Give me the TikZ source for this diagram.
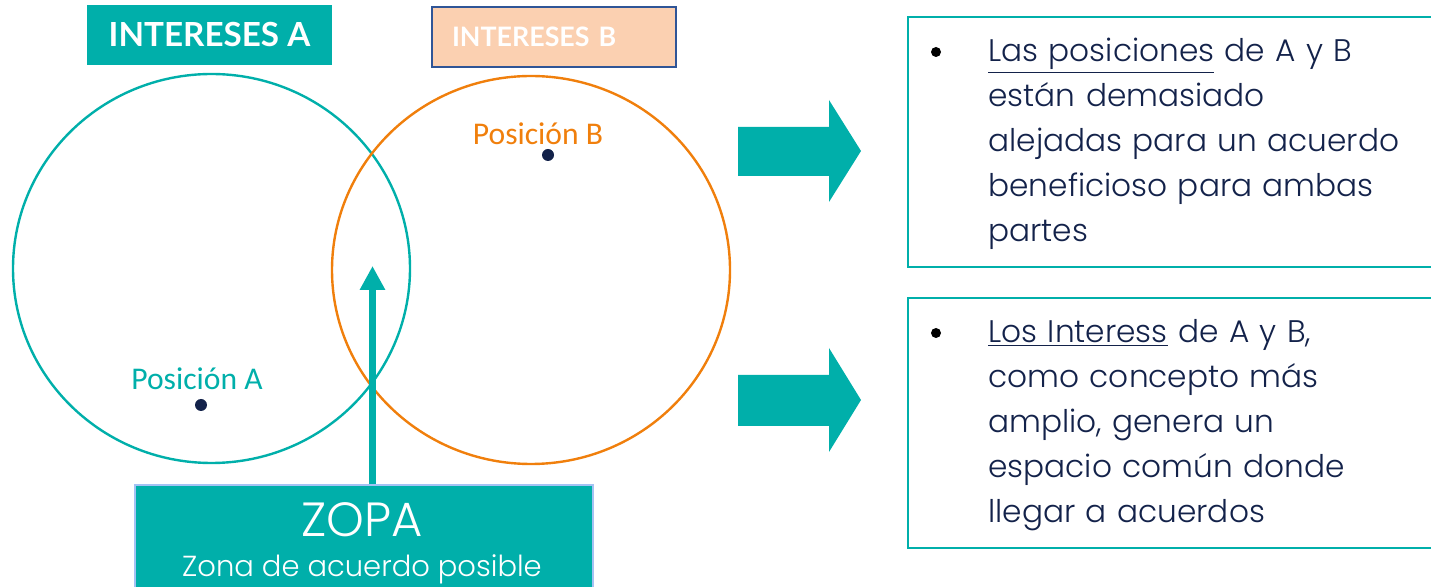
\documentclass[tikz,border=0pt]{standalone}
\usepackage{fontspec}
\setmainfont{Lato}
\newfontfamily\lightfont{Poppins Light}
\newfontfamily\calfont{Carlito}
\usetikzlibrary{arrows.meta}
\definecolor{zteal}{HTML}{00AFAA}
\definecolor{zorange}{HTML}{F07F0C}
\definecolor{zpeach}{HTML}{FBD0B1}
\definecolor{znavy}{HTML}{13224A}
\definecolor{zblue}{HTML}{2F5597}
\definecolor{zlight}{HTML}{A4C2F4}

\begin{document}
\begin{tikzpicture}[x=0.5pt,y=-0.5pt,
    dot/.style={circle, fill=znavy, inner sep=0pt, minimum size=6pt},
    bullet/.style={circle, fill=black, inner sep=0pt, minimum size=5pt},
    notebox/.style={draw=zteal, line width=1pt},
    notetext/.style={anchor=north west, inner sep=0pt, text=znavy, text width=225pt, align=left,
        font=\lightfont\fontsize{15.6}{22.5}\selectfont},
    bigarrow/.style={fill=zteal}]
        \useasboundingbox (0,0) rectangle (1431,587);
        % headings
        \node[fill=zteal, text=white, minimum width=122.5pt, minimum height=30pt,
            font=\bfseries\fontsize{16.6}{19}\selectfont] (intA) at (209.5,35) {INTERESES A};
        \node[fill=zpeach, draw=zblue, line width=0.8pt, text=white, minimum width=122pt, minimum height=30pt,
            inner xsep=10pt, text width=102pt, align=left,
            font=\bfseries\fontsize{13.4}{15}\selectfont] (intB) at (554,37) {\raisebox{-1.5pt}{INTERESES B}};
        % interest circles
        \draw[zteal, line width=1.2pt] (211.5,268.5) ellipse [x radius=198.5, y radius=194.5];
        \draw[zorange, line width=1.2pt] (531,270) ellipse [x radius=199, y radius=194];
        % positions
        \node[dot] (posA) at (201,405) {};
        \node[zteal, font=\calfont\fontsize{15.8}{18}\selectfont] (labA) at (197,379) {Posición A};
        \node[dot] (posB) at (548,155) {};
        \node[zorange, font=\calfont\fontsize{15.8}{18}\selectfont] (labB) at (538,134) {Posición B};
        % zopa
        \node[fill=zteal, draw=zlight, line width=1pt, anchor=north west, minimum width=229pt, minimum height=60pt] (zopa) at (133.5,484.5) {};
        \node[text=white, font=\lightfont\fontsize{24}{28}\selectfont] (zopaT) at (362,520) {ZOPA};
        \node[text=white, font=\lightfont\fontsize{14.5}{17}\selectfont] (zopaS) at (362,569) {Zona de acuerdo posible};
        \coordinate (zopaTip) at (372.5,266);
        \draw[zteal, line width=3.5pt, -{Triangle[width=12pt,length=12pt]}] (zopa.north -| zopaTip) -- (zopaTip);
        % block arrows
        \fill[bigarrow] (738,127) -- (829,127) -- (829,100) -- (861,151) -- (829,202) -- (829,176) -- (738,176) -- cycle;
        \fill[bigarrow] (738,375) -- (829,375) -- (829,348) -- (861,400) -- (829,452) -- (829,426) -- (738,426) -- cycle;
        % notes
        \draw[notebox] (908,17) rectangle (1445,267);
        \node[bullet] (bulA) at (936,52) {};
        \node[notetext] (noteA) at (988,38) {\underline{Las posiciones} de A y B\\están demasiado\\alejadas para un acuerdo\\beneficioso para ambas\\partes};
        \draw[notebox] (908,298) rectangle (1445,548);
        \node[bullet] (bulB) at (936,333) {};
        \node[notetext] (noteB) at (988,319) {\underline{Los Interess} de A y B,\\como concepto más\\amplio, genera un\\espacio común donde\\llegar a acuerdos};
    \end{tikzpicture}
\end{document}
